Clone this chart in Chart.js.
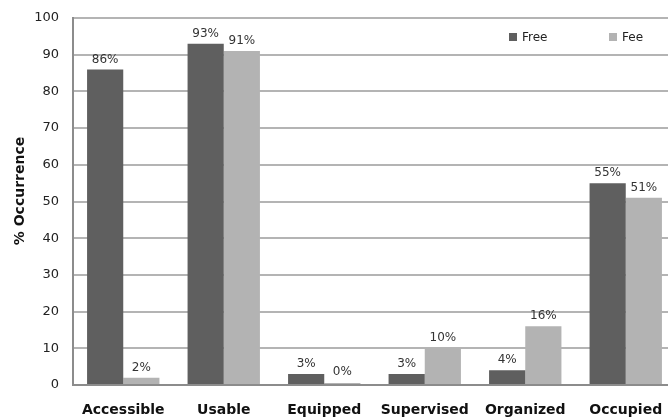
<!DOCTYPE html>
<html>
<head>
<meta charset="utf-8">
<script src="https://cdn.jsdelivr.net/npm/chart.js@4/dist/chart.umd.min.js"></script>
<style>
  html, body { margin: 0; padding: 0; background: #fff; overflow: hidden; }
  #wrap { width: 680px; height: 417px; }
</style>
</head>
<body>
<div id="wrap"><canvas id="chart"></canvas></div>
<script>
// Data
const categories = ["Accessible", "Usable", "Equipped", "Supervised", "Organized", "Occupied"];
const seriesNames = ["Free", "Fee"];
const freeValues = [86, 93, 3, 3, 4, 55];
const feeValues = [2, 91, 0, 10, 16, 51];
const yTicks = [0, 10, 20, 30, 40, 50, 60, 70, 80, 90, 100];
const yTitle = "% Occurrence";

const colors = ["#5f5f5f", "#b3b3b3"];
const font = "'DejaVu Sans', Verdana, sans-serif";

// value labels above each bar
const valueLabels = {
  id: "valueLabels",
  afterDatasetsDraw(chart) {
    const { ctx } = chart;
    ctx.save();
    ctx.font = "12px " + font;
    ctx.fillStyle = "#333";
    ctx.textAlign = "center";
    ctx.textBaseline = "bottom";
    chart.data.datasets.forEach((ds, i) => {
      chart.getDatasetMeta(i).data.forEach((bar, j) => {
        ctx.fillText(ds.data[j] + "%", bar.x, Math.min(bar.y, chart.chartArea.bottom - 3) - 4);
      });
    });
    ctx.restore();
  }
};

// small legend in the upper right of the plot, plus the rotated y title
const extras = {
  id: "extras",
  afterDraw(chart) {
    const { ctx } = chart;
    const xs = [509, 609];
    ctx.save();
    ctx.font = "12px " + font;
    ctx.textBaseline = "middle";
    chart.data.datasets.forEach((ds, i) => {
      ctx.fillStyle = ds.backgroundColor;
      ctx.fillRect(xs[i], 33, 8, 8);
      ctx.fillStyle = "#222";
      ctx.fillText(ds.label, xs[i] + 13, 38);
    });
    ctx.translate(20, 191);
    ctx.rotate(-Math.PI / 2);
    ctx.textAlign = "center";
    ctx.font = "bold 14px " + font;
    ctx.fillStyle = "#111";
    ctx.fillText(yTitle, 0, 0);
    ctx.restore();
  }
};

new Chart(document.getElementById("chart"), {
  type: "bar",
  data: {
    labels: categories,
    datasets: [
      { label: seriesNames[0], data: freeValues, backgroundColor: colors[0] },
      { label: seriesNames[1], data: feeValues, backgroundColor: colors[1], minBarLength: 2 }
    ]
  },
  options: {
    responsive: true,
    maintainAspectRatio: false,
    animation: false,
    layout: { padding: { top: 18, right: 4, left: 0, bottom: 0 } },
    datasets: { bar: { barPercentage: 1, categoryPercentage: 0.72 } },
    plugins: { legend: { display: false }, tooltip: { enabled: false } },
    scales: {
      x: {
        grid: { display: false, drawTicks: false },
        border: { color: "#8c8c8c", width: 2 },
        ticks: { color: "#111", font: { family: font, size: 14, weight: "bold" }, padding: 17 },
        afterFit(scale) { scale.height = 32; }
      },
      y: {
        min: 0,
        max: 100,
        afterBuildTicks(scale) { scale.ticks = yTicks.map(v => ({ value: v })); },
        grid: { color: "#b4b4b4", lineWidth: 2, drawTicks: false },
        border: { color: "#8c8c8c", width: 2 },
        ticks: { color: "#222", font: { family: font, size: 13 }, padding: 14 },
        afterFit(scale) {
          scale.width = 73;
          scale.paddingTop = 0;
          scale.paddingBottom = 0;
        }
      }
    }
  },
  plugins: [valueLabels, extras]
});
</script>
</body>
</html>
